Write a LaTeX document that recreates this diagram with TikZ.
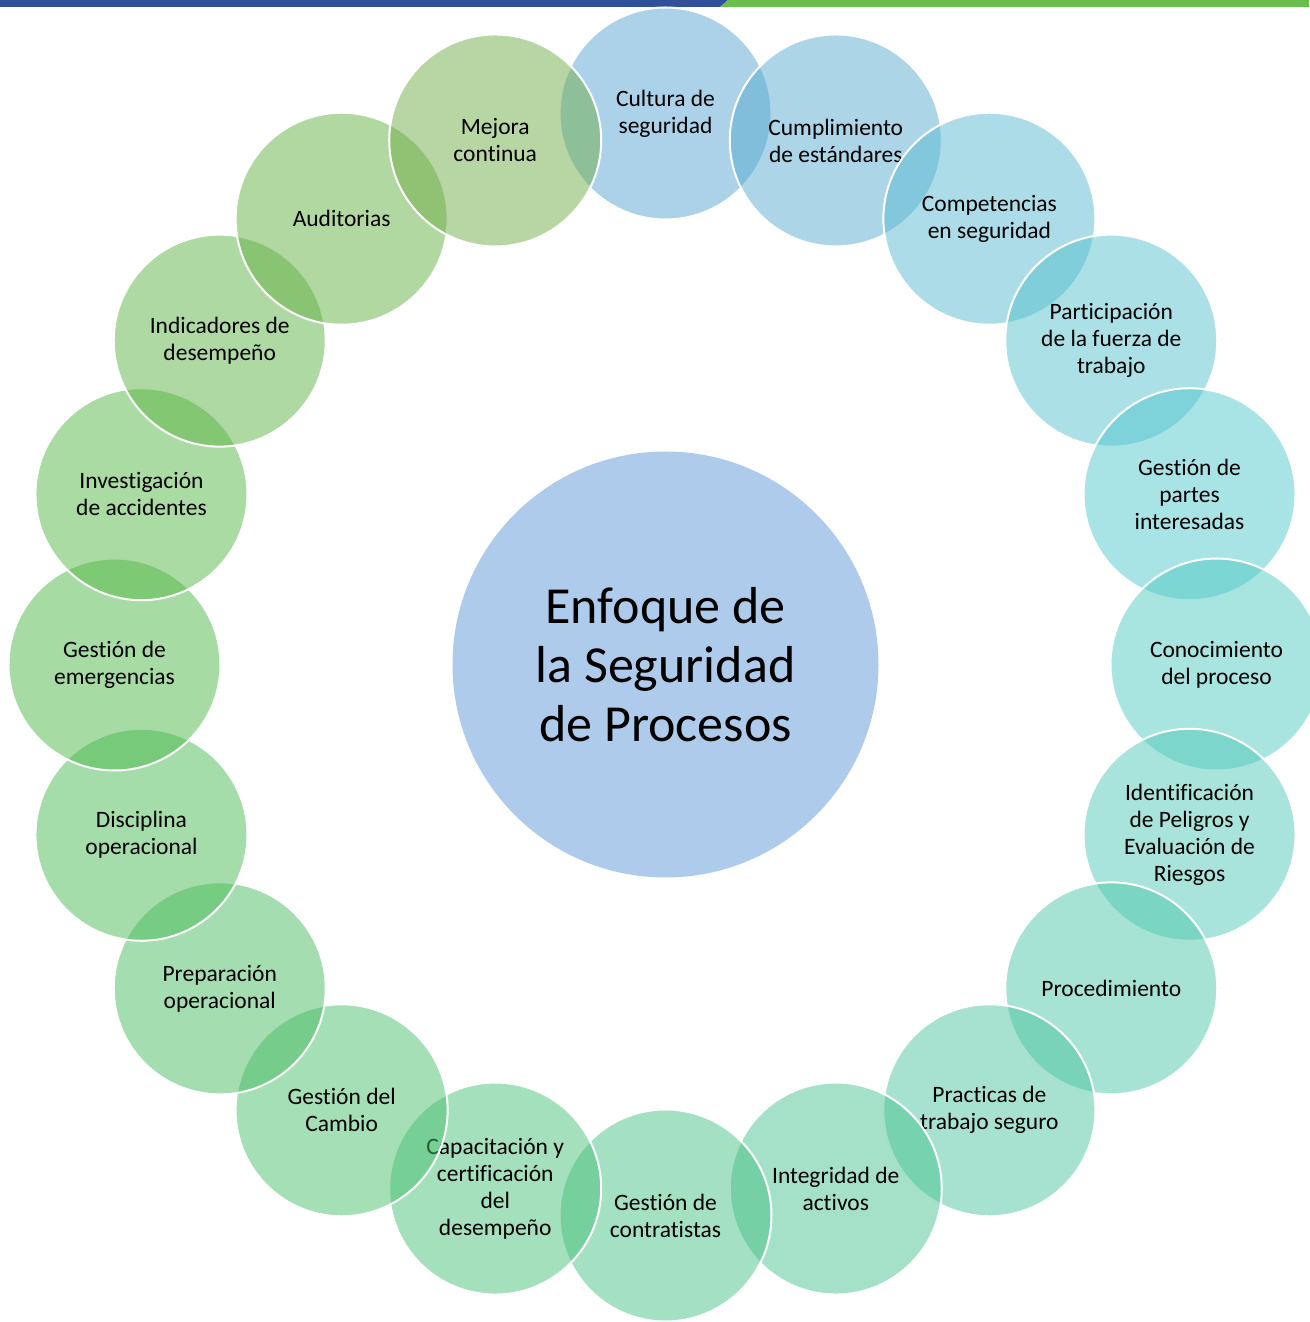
\documentclass[tikz,border=0pt]{standalone}
\usepackage{fontspec}
\setmainfont{Carlito}[Ligatures={NoCommon,NoContextual}, RawFeature={-liga;-clig;-calt}]
\usepackage{tikz}
\usepackage{xcolor}
\definecolor{barblue}{RGB}{48,80,154}
\definecolor{bargreen}{RGB}{106,190,76}
\definecolor{corefill}{RGB}{174,203,235}
\definecolor{tono0}{RGB}{87,165,211}
\definecolor{tono1}{RGB}{89,171,209}
\definecolor{tono2}{RGB}{89,185,209}
\definecolor{tono3}{RGB}{85,193,205}
\definecolor{tono4}{RGB}{81,199,205}
\definecolor{tono5}{RGB}{81,201,193}
\definecolor{tono6}{RGB}{81,201,185}
\definecolor{tono7}{RGB}{77,199,169}
\definecolor{tono8}{RGB}{77,197,159}
\definecolor{tono9}{RGB}{73,195,145}
\definecolor{tono10}{RGB}{73,193,133}
\definecolor{tono11}{RGB}{73,193,121}
\definecolor{tono12}{RGB}{73,191,109}
\definecolor{tono13}{RGB}{73,189,97}
\definecolor{tono14}{RGB}{73,187,85}
\definecolor{tono15}{RGB}{77,185,73}
\definecolor{tono16}{RGB}{85,183,69}
\definecolor{tono17}{RGB}{93,179,69}
\definecolor{tono18}{RGB}{101,177,69}
\definecolor{tono19}{RGB}{113,173,73}

\begin{document}
\begin{tikzpicture}[x=1pt, y=1pt,
every node/.style = {align=center, text=black},
  petal/.style = {circle, draw=white, line width=2pt, minimum size=212pt, inner sep=0pt,
    fill opacity=0.5, text opacity=1, font=\fontsize{23.5}{27}\selectfont},
  core/.style = {circle, fill=corefill, minimum size=426pt, inner sep=0pt,
    font=\fontsize{52}{59}\selectfont}
]
\useasboundingbox (-665.5,-657.5) rectangle (643.5,664.5);
% top bar
\fill[barblue] (-665.5,664.5) -- (62.5,664.5) -- (54.5,657.5) -- (-665.5,657.5) -- cycle;
\fill[bargreen] (62.5,664.5) -- (643.5,664.5) -- (643.5,657.5) -- (54.5,657.5) -- cycle;
% center
\node[core] (enfoque) at (0,0) {Enfoque de\\la Seguridad\\de Procesos};
% ring
\node[petal, fill=tono0] (cultura) at (90:551) {Cultura de\\seguridad};
\node[petal, fill=tono1] (cumplimiento) at (72:551) {Cumplimiento\\de estándares};
\node[petal, fill=tono2] (competencias) at (54:551) {Competencias\\en seguridad};
\node[petal, fill=tono3] (participacion) at (36:551) {Participación\\de la fuerza de\\trabajo};
\node[petal, fill=tono4] (partes) at (18:551) {Gestión de\\partes\\interesadas};
\node[petal, fill=tono5] (conocimiento) at (0:551) {Conocimiento\\del proceso};
\node[petal, fill=tono6] (peligros) at (-18:551) {Identificación\\de Peligros y\\Evaluación de\\Riesgos};
\node[petal, fill=tono7] (procedimiento) at (-36:551) {Procedimiento};
\node[petal, fill=tono8] (practicas) at (-54:551) {Practicas de\\trabajo seguro};
\node[petal, fill=tono9] (integridad) at (-72:551) {Integridad de\\activos};
\node[petal, fill=tono10] (contratistas) at (-90:551) {Gestión de\\contratistas};
\node[petal, fill=tono11] (capacitacion) at (-108:551) {Capacitación y\\certificación\\del\\desempeño};
\node[petal, fill=tono12] (cambio) at (-126:551) {Gestión del\\Cambio};
\node[petal, fill=tono13] (preparacion) at (-144:551) {Preparación\\operacional};
\node[petal, fill=tono14] (disciplina) at (-162:551) {Disciplina\\operacional};
\node[petal, fill=tono15] (emergencias) at (180:551) {Gestión de\\emergencias};
\node[petal, fill=tono16] (investigacion) at (162:551) {Investigación\\de accidentes};
\node[petal, fill=tono17] (indicadores) at (144:551) {Indicadores de\\desempeño};
\node[petal, fill=tono18] (auditorias) at (126:551) {Auditorias};
\node[petal, fill=tono19] (mejora) at (108:551) {Mejora\\continua};
\end{tikzpicture}
\end{document}
